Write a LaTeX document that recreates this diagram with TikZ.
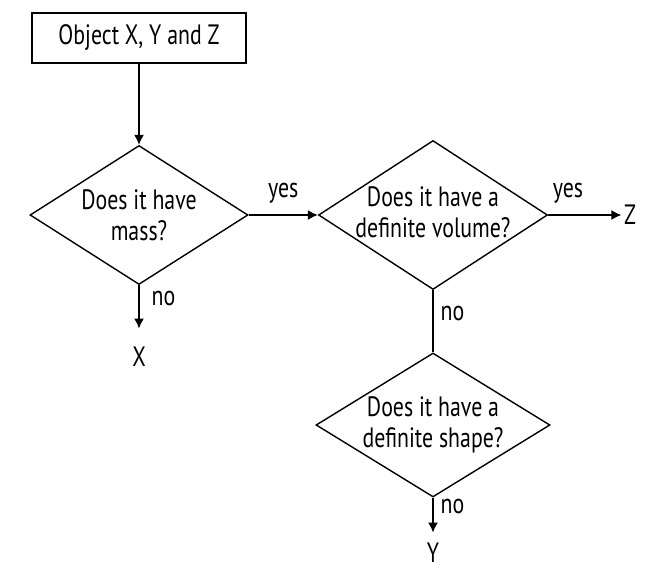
\documentclass[tikz,border=0pt]{standalone}
\usepackage{fontspec}
\setmainfont{PT Sans}[FakeStretch=0.78]
\usetikzlibrary{arrows.meta}
\usetikzlibrary{positioning,shapes}

\begin{document}
\begin{tikzpicture} [->,>={Latex[length=5pt,width=5pt]},x=0.5pt,y=-0.5pt,line width=0.7pt,
  every node/.style={font=\fontsize{14}{15.5}\selectfont},
  startbox/.style={draw,rectangle,minimum width=107pt,minimum height=25pt},
  decision/.style={draw,diamond,shape aspect=1.55,align=center,inner xsep=-4pt,inner ysep=0pt},
  outcome/.style={inner sep=1pt},
  lbl/.style={inner sep=1.5pt}]

  \useasboundingbox (0,0) rectangle (663,583);

  \node[startbox] (0) at (139,38) {Object X, Y and Z};
  \node[decision, minimum width=109pt, minimum height=69.5pt] (1) at (139,215) {Does it have\\mass?};
  \node[decision, minimum width=114.5pt, minimum height=74.5pt, text depth=3pt] (2) at (433,215) {Does it have a\\definite volume?};
  \node[decision, minimum width=117pt, minimum height=72pt, text depth=3pt] (3) at (433,425) {Does it have a\\definite shape?};
  \node[outcome, inner sep=9pt] (x) at (139,357) {X};
  \node[outcome, inner sep=5pt] (y) at (433,553) {Y};
  \node[outcome] (z) at (630,215) {Z};

  \path
    (0) edge (1)
    (1) edge node[lbl, above=4pt] {yes} (2)
    (1) edge node[lbl, right=4.5pt, pos=0.3] {no} (x)
    (2) edge node[lbl, above=4pt, pos=0.27] {yes} (z)
    (2) edge[-] node[lbl, right=2pt, pos=0.375] {no} (3)
    (3) edge node[lbl, right=2pt, pos=0.26] {no} (y);

\end{tikzpicture}
\end{document}
